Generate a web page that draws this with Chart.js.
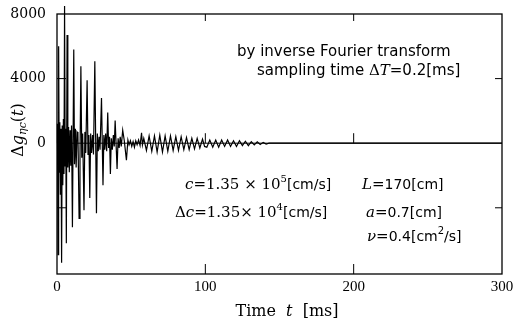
<!DOCTYPE html>
<html>
<head>
<meta charset="utf-8">
<script src="https://cdn.jsdelivr.net/npm/chart.js@4.4.1/dist/chart.umd.min.js"></script>
<style>
  html, body { margin: 0; padding: 0; background: #fff; }
  #wrap { width: 522px; height: 324px; }
</style>
</head>
<body>
<div id="wrap"><canvas id="chartResponse" width="522" height="324"></canvas></div>
<script>
// time axis [ms] (peaks / troughs)
const timeMs = [
    0, 0.3, 0.7, 1.1, 1.5, 1.9, 2.3, 2.7, 3.1, 3.5, 3.9, 4.3, 4.7, 5.1, 5.5, 5.9,
    6.3, 6.8, 7.3, 7.8, 8.3, 8.8, 9.3, 9.8, 10.4, 11.3, 11.8, 12.4, 12.9, 13.5, 14.1, 14.9,
    15.5, 16.1, 16.7, 17.3, 18.2, 18.8, 19.4, 20.3, 20.9, 21.5, 22.1, 22.7, 23.3, 24.0, 24.6, 25.5,
    26.6, 27.2, 27.8, 28.4, 29.0, 30.0, 31.0, 31.6, 32.2, 32.8, 33.5, 34.2, 34.8, 35.4, 36.0, 36.6,
    37.3, 38.0, 38.6, 39.2, 40.5, 41.2, 41.9, 42.6, 43.3, 44.3, 45.3, 46.8, 47.8, 48.6, 49.5, 50.4,
    51.3, 52.2, 53.1, 54.0, 55.0, 56.0, 57.0, 57.6, 58.5, 60.3, 62.1, 63.9, 65.7, 67.5, 69.3, 71.1,
    72.9, 74.7, 76.5, 78.3, 80.1, 81.9, 83.7, 85.5, 87.3, 89.1, 90.9, 92.7, 94.5, 96.3, 98.1, 99.5,
    101, 103, 105, 107, 109, 111, 113, 115, 117, 119, 121, 123, 125, 127, 129, 131,
    133, 135, 137, 139, 141, 143, 300
];
const deltaG = [
    0, 1200, -6900, 6000, -1800, 1300, -3200, 900, -7400, 1100, -2600, 1500, -1900, 8500, -1400, 900,
    -6200, 6700, -1500, 1000, -1800, 800, -1400, 1100, -5200, 5800, -1300, 900, -1500, 700, 600, -4650,
    -800, 4760, -900, 600, -4150, 700, -600, 3900, -700, 500, -3400, 600, -600, 500, -700, 5080,
    -4340, 600, -500, 400, -400, 2800, -2600, 500, -400, 600, -500, 1900, -300, 400, -1900, 300,
    -400, 500, -200, 1400, -1600, 300, -300, 400, -200, 800, 200, -1050, 200, -100, 150, -200,
    100, -250, 150, -100, 200, -150, 650, -100, 300, -450, 450, -500, 450, -550, 500, -550,
    450, -500, 450, -450, 400, -450, 400, -400, 350, -400, 300, -350, 300, -300, 250, -200,
    -250, 200, -250, 200, -250, 200, -200, 200, -200, 150, -200, 150, -150, 120, -150, 100,
    -100, 80, -80, 50, -50, 0, 0
];
const xTicks = [0, 100, 200, 300];
const yTicks = [-4000, 0, 4000, 8000];
const yShown = [0, 4000, 8000];

const SERIF = '"DejaVu Serif", "Liberation Serif", serif';
const TIMES = '"Liberation Serif", serif';
const SANS = '"DejaVu Sans", sans-serif';

function drawRich(ctx, x, y, parts) {
    let cx = x;
    parts.forEach(p => {
        ctx.font = p.f;
        ctx.fillText(p.t, cx, y + (p.dy || 0));
        cx += ctx.measureText(p.t).width;
    });
    return cx - x;
}

function richWidth(ctx, parts) {
    let w = 0;
    parts.forEach(p => { ctx.font = p.f; w += ctx.measureText(p.t).width; });
    return w;
}

const framePlugin = {
    id: 'framePlugin',
    afterDraw(chart) {
        const ctx = chart.ctx;
        const a = chart.chartArea;
        const xs = chart.scales.x;
        const ys = chart.scales.y;
        const y0 = ys.getPixelForValue(0);

        ctx.save();
        ctx.strokeStyle = '#000';
        ctx.lineWidth = 1.3;
        ctx.strokeRect(a.left, a.top, a.right - a.left, a.bottom - a.top);

        ctx.lineWidth = 1;
        ctx.beginPath();
        ctx.moveTo(a.left, y0);
        ctx.lineTo(a.right, y0);
        // inward ticks
        [4000, -4000].forEach(v => {
            const py = ys.getPixelForValue(v);
            ctx.moveTo(a.left, py); ctx.lineTo(a.left + 9, py);
            ctx.moveTo(a.right, py); ctx.lineTo(a.right - 7, py);
        });
        [100, 200].forEach(v => {
            const px = xs.getPixelForValue(v);
            ctx.moveTo(px, a.bottom); ctx.lineTo(px, a.bottom - 10);
            ctx.moveTo(px, a.top); ctx.lineTo(px, a.top + 7);
            ctx.moveTo(px, y0); ctx.lineTo(px, y0 - 10);
        });
        ctx.stroke();

        ctx.fillStyle = '#000';
        ctx.textBaseline = 'middle';
        ctx.textAlign = 'left';

        const it = 'italic 15px ' + SERIF;
        const rm = '15px ' + SERIF;
        const sf = '14px ' + SANS;
        const sfTop = '15px ' + SANS;
        const sup = '10px ' + SANS;
        const supS = '10px ' + SERIF;

        drawRich(ctx, 237, 52, [{ t: 'by inverse Fourier transform', f: sfTop }]);
        drawRich(ctx, 257, 71, [
            { t: 'sampling time ', f: sfTop }, { t: '\u0394', f: rm }, { t: 'T', f: it },
            { t: '=', f: rm }, { t: '0.2[ms]', f: sfTop }
        ]);
        drawRich(ctx, 185, 185, [
            { t: 'c', f: it }, { t: '=1.35 \u00d7 10', f: rm }, { t: '5', f: supS, dy: -6 },
            { t: '[cm/s]', f: sf }
        ]);
        drawRich(ctx, 362, 185, [{ t: 'L', f: it }, { t: '=', f: rm }, { t: '170[cm]', f: sf }]);
        drawRich(ctx, 175, 213, [
            { t: '\u0394', f: rm }, { t: 'c', f: it }, { t: '=1.35\u00d7 10', f: rm },
            { t: '4', f: supS, dy: -6 }, { t: '[cm/s]', f: sf }
        ]);
        drawRich(ctx, 366, 213, [{ t: 'a', f: it }, { t: '=', f: rm }, { t: '0.7[cm]', f: sf }]);
        drawRich(ctx, 367, 237, [
            { t: '\u03bd', f: it }, { t: '=', f: rm }, { t: '0.4[cm', f: sf },
            { t: '2', f: sup, dy: -6 }, { t: '/s]', f: sf }
        ]);

        // x title
        const xt = [
            { t: 'Time  ', f: '16px ' + SERIF }, { t: 't', f: 'italic 16px ' + SERIF },
            { t: '  [ms]', f: '16px ' + SERIF }
        ];
        drawRich(ctx, 287 - richWidth(ctx, xt) / 2, 312, xt);

        // y title
        const yt = [
            { t: '\u0394', f: '16px ' + SERIF }, { t: 'g', f: 'italic 16px ' + SERIF },
            { t: '\u03b7c', f: 'italic 11px ' + SERIF, dy: 4 },
            { t: '(', f: '16px ' + SERIF }, { t: 't', f: 'italic 16px ' + SERIF },
            { t: ')', f: '16px ' + SERIF }
        ];
        ctx.translate(19, 130);
        ctx.rotate(-Math.PI / 2);
        drawRich(ctx, -richWidth(ctx, yt) / 2, 0, yt);
        ctx.restore();
    }
};

new Chart(document.getElementById('chartResponse'), {
    type: 'line',
    data: {
        datasets: [{
            data: timeMs.map((t, i) => ({ x: t, y: deltaG[i] })),
            borderColor: '#000',
            borderWidth: 1.2,
            pointRadius: 0,
            tension: 0,
            clip: false
        }]
    },
    options: {
        responsive: false,
        animation: false,
        layout: { padding: { top: 14, right: 20, left: 0, bottom: 0 } },
        plugins: { legend: { display: false }, tooltip: { enabled: false } },
        scales: {
            x: {
                type: 'linear',
                min: 0,
                max: 300,
                grid: { display: false },
                border: { display: false },
                afterBuildTicks: s => { s.ticks = xTicks.map(v => ({ value: v })); },
                afterFit: s => { s.height = 50; },
                ticks: {
                    color: '#000',
                    padding: -4,
                    maxRotation: 0,
                    font: { family: TIMES, size: 15 }
                }
            },
            y: {
                min: -8100,
                max: 8000,
                grid: { display: false },
                border: { display: false },
                afterBuildTicks: s => { s.ticks = yTicks.map(v => ({ value: v })); },
                afterFit: s => { s.width = 57; },
                ticks: {
                    color: '#000',
                    padding: 3,
                    font: { family: SERIF, size: 14 },
                    callback: v => yShown.includes(v) ? String(v) : ''
                }
            }
        }
    },
    plugins: [framePlugin]
});
</script>
</body>
</html>
